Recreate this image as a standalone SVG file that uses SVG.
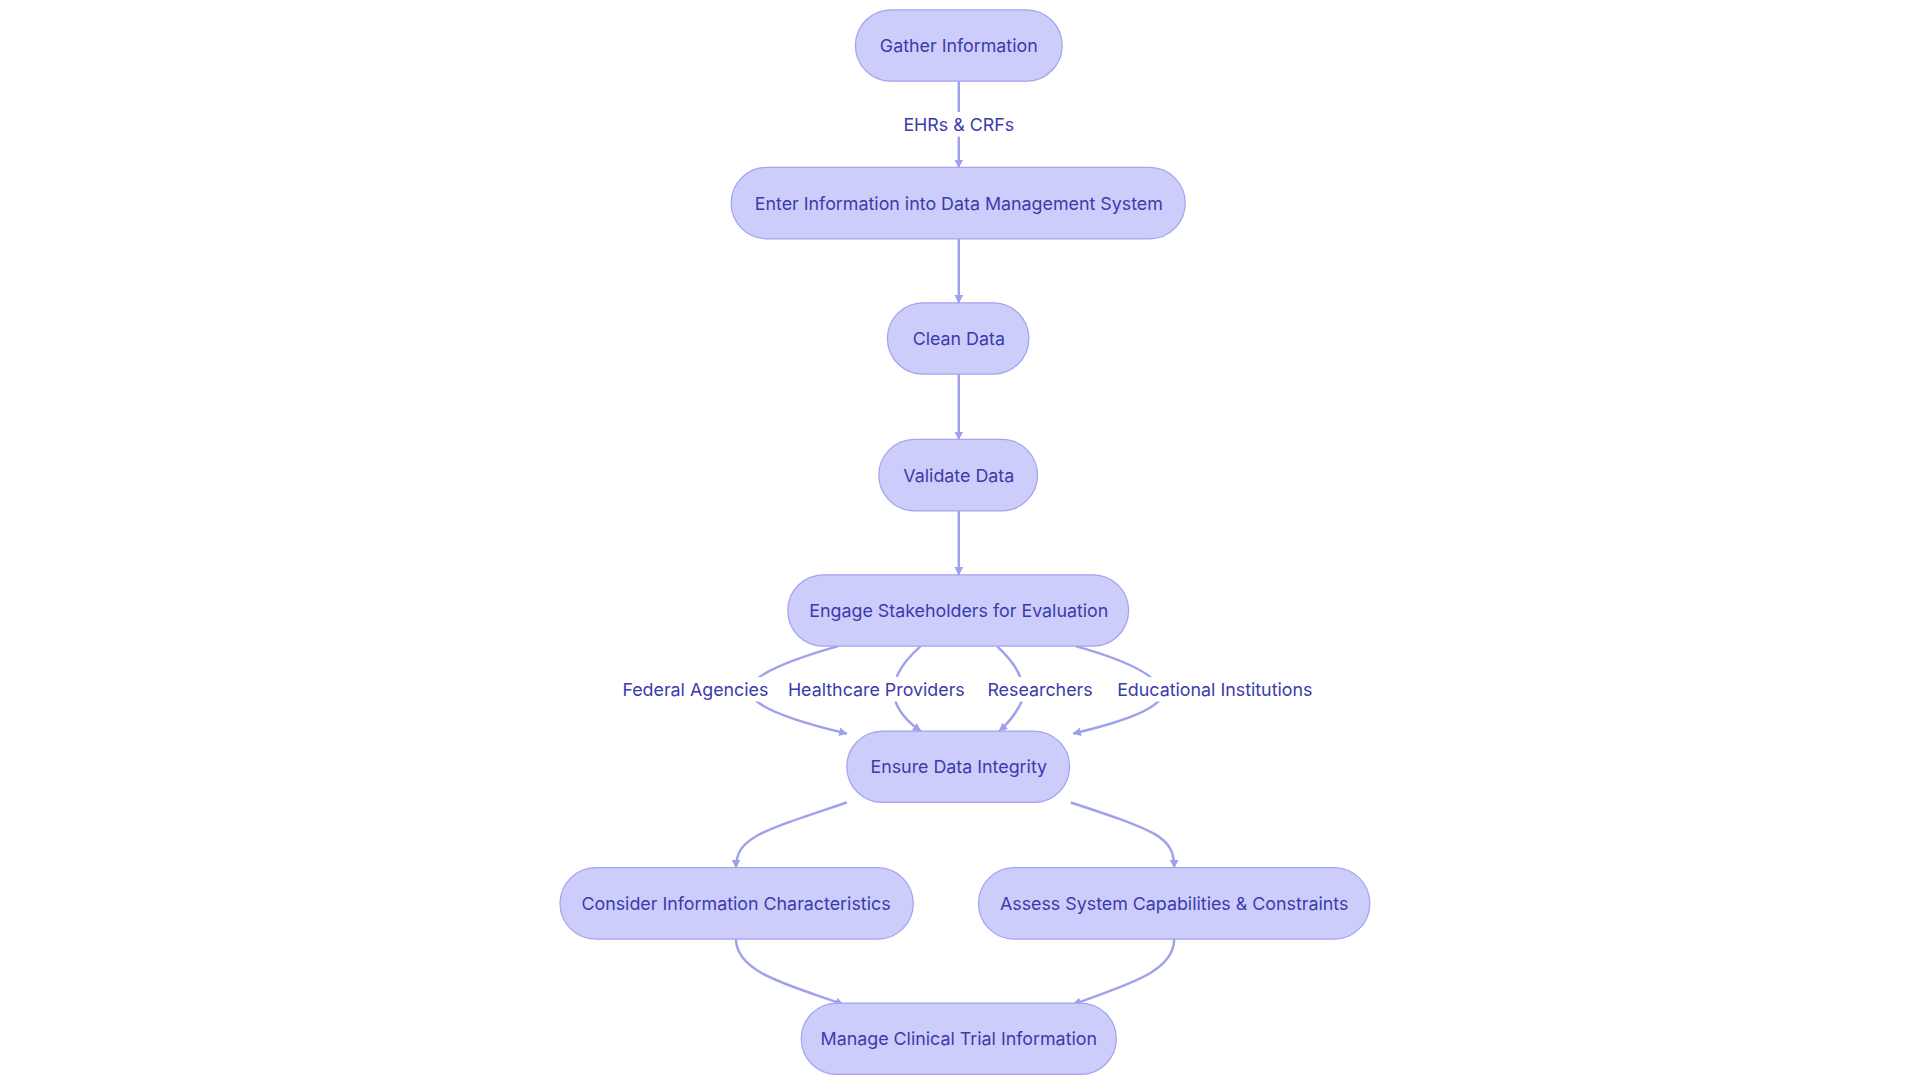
<svg xmlns="http://www.w3.org/2000/svg" width="1920" height="1080" viewBox="0 0 1920 1080">
<defs>
<style>
.n rect{fill:#cdcdfb;stroke:#a3a3ee;stroke-width:1}
.n text,.l text{font-family:Inter,"Liberation Sans",sans-serif;font-size:14.5px;fill:#3b3bab;text-anchor:middle;dominant-baseline:central}
.e path{fill:none;stroke:#9fa2ea;stroke-width:2;marker-end:url(#a)}
.l rect{fill:#ffffff}
</style>
<marker id="a" viewBox="0 0 10 10" refX="9" refY="5" markerWidth="7" markerHeight="7" orient="auto" markerUnits="userSpaceOnUse"><path d="M0,0L10,5L0,10z" fill="#9fa2ea"/></marker>
</defs>
<rect width="1920" height="1080" fill="#fff"/>
<g transform="scale(1.2308)">
<g id="connectors" class="e">
<path d="M779,66 L779,136"/>
<path d="M779,194 L779,246"/>
<path d="M779,304 L779,357"/>
<path d="M779,415 L779,467"/>
<path d="M681,525 Q600,548 610,565 Q620,580 688,596"/>
<path d="M748,525 Q722,548 727,568 Q731,582 748,594"/>
<path d="M810,525 Q835,548 831,568 Q825,582 812,594"/>
<path d="M874,525 Q945,545 944,565 Q940,580 872,596"/>
<path d="M688,652 C620,675 598,680 598,705"/>
<path d="M870,652 C940,675 954,680 954,705"/>
<path d="M598,763 C598,790 640,800 685,816"/>
<path d="M954,763 C954,790 915,800 872,816"/>
</g>
<g class="l">
<rect x="735" y="91" width="88" height="20"/><text x="779" y="101">EHRs &amp; CRFs</text>
<rect x="507" y="550" width="116" height="20"/><text x="565" y="560">Federal Agencies</text>
<rect x="642" y="550" width="140" height="20"/><text x="712" y="560">Healthcare Providers</text>
<rect x="803" y="550" width="84" height="20"/><text x="845" y="560">Researchers</text>
<rect x="907" y="550" width="160" height="20"/><text x="987" y="560">Educational Institutions</text>
</g>
<g id="n1" class="n"><rect x="695" y="8" width="168" height="58" rx="29"/><text x="779" y="37">Gather Information</text></g>
<g id="n2" class="n"><rect x="594" y="136" width="369" height="58" rx="29"/><text x="779" y="165">Enter Information into Data Management System</text></g>
<g id="n3" class="n"><rect x="721" y="246" width="115" height="58" rx="29"/><text x="779" y="275">Clean Data</text></g>
<g id="n4" class="n"><rect x="714" y="357" width="129" height="58" rx="29"/><text x="779" y="386">Validate Data</text></g>
<g id="n5" class="n"><rect x="640" y="467" width="277" height="58" rx="29"/><text x="779" y="496">Engage Stakeholders for Evaluation</text></g>
<g id="n6" class="n"><rect x="688" y="594" width="181" height="58" rx="29"/><text x="779" y="623">Ensure Data Integrity</text></g>
<g id="n7" class="n"><rect x="455" y="705" width="287" height="58" rx="29"/><text x="598" y="734">Consider Information Characteristics</text></g>
<g id="n8" class="n"><rect x="795" y="705" width="318" height="58" rx="29"/><text x="954" y="734">Assess System Capabilities &amp; Constraints</text></g>
<g id="n9" class="n"><rect x="651" y="815" width="256" height="58" rx="29"/><text x="779" y="844">Manage Clinical Trial Information</text></g>
</g>
</svg>
